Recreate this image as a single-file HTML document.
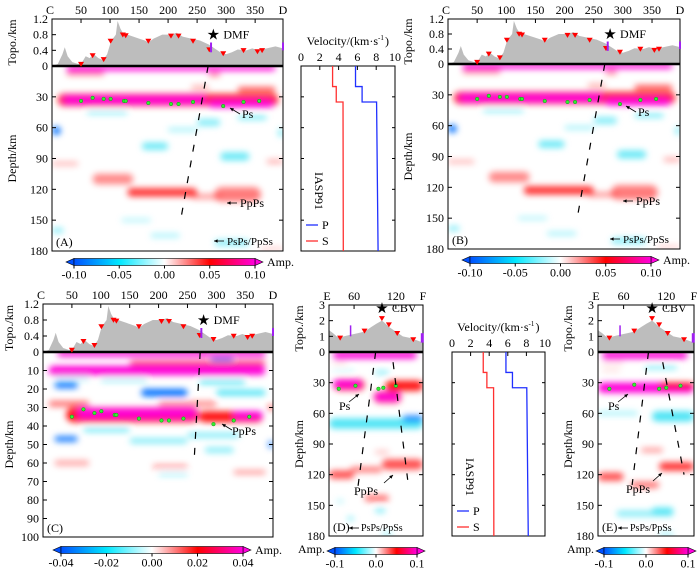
<!DOCTYPE html>
<html><head><meta charset="utf-8">
<style>
html,body{margin:0;padding:0;background:#fff;}
svg{display:block;font-family:"Liberation Serif",serif;}
</style></head>
<body>
<svg id="fig" width="700" height="570" viewBox="0 0 700 570" xmlns="http://www.w3.org/2000/svg">
<defs>
<filter id="blur" x="-20%" y="-80%" width="140%" height="260%"><feGaussianBlur stdDeviation="3.2"/></filter>
<linearGradient id="cmap" x1="0" x2="1" y1="0" y2="0">
<stop offset="0" stop-color="#0050ff"/><stop offset="0.25" stop-color="#00e8ff"/><stop offset="0.5" stop-color="#ffffff"/><stop offset="0.75" stop-color="#ff0000"/><stop offset="1" stop-color="#ff00dd"/>
</linearGradient>
</defs>
</svg>
<script>
// ---------- data ----------
const cdTopoDist=[0,10,18,22,27,35,45,52,58,65,72,80,88,95,100,105,110,113,118,122,130,140,150,160,166,175,190,205,215,225,240,255,270,280,290,300,310,320,335,345,355,370,385,398];
const cdTopoElev=[0,0.05,0.3,0.48,0.25,0.1,0.05,0.1,0.25,0.2,0.3,0.2,0.15,0.3,0.55,0.7,0.8,1.15,0.95,0.85,0.8,0.75,0.7,0.65,0.6,0.7,0.8,0.8,0.85,0.75,0.7,0.65,0.55,0.45,0.35,0.3,0.35,0.42,0.4,0.45,0.4,0.45,0.5,0.45];
const cdStationDist=[50,70,89,101,122,127,166,205,218,243,271,295,330,354,362];
const cdStationElev=[0.03,0.25,0.15,0.62,0.78,0.76,0.62,0.75,0.75,0.62,0.4,0.3,0.38,0.35,0.38];
const cdMohoDist=[50,70,89,101,124,127,166,205,218,243,295,330,357];
const cdMohoDepth=[34,31,32,32,34,34,36,37,37,35,39,35,34];
const cdMohoDepthC=[35,31,33,32,34,34,36,37,37,36,39,37,35];
const efTopoDist=[24,30,35,40,45,55,65,75,85,92,100,103,110,120,130,140,150,159];
const efTopoElev=[1.4,1.2,1.0,0.9,1.0,1.1,1.2,1.3,1.6,1.8,2.0,1.9,1.6,1.3,1.0,0.9,0.75,0.6];
const efStationDist=[40,75,100,110,122,145];
const efStationElev=[0.85,1.3,2.1,1.7,1.15,0.75];
const dMohoDist=[38,62,95,102,120];
const dMohoDepth=[36,33,36,35,33];
const eMohoDist=[40,75,110,120,140];
const eMohoDepth=[36,32,36,35,33];
const iaspDepth=[0,20,20,35,35,180];
const iaspVp=[5.8,5.8,6.5,6.5,8.04,8.2];
const iaspVs=[3.36,3.36,3.75,3.75,4.47,4.5];
// blobs: [distStart, distEnd, depth, thickness, normalizedAmp]
const blobsAB=[[25,385,2,5,1.0],[25,90,7,4,0.5],[270,290,8,4,0.5],[10,390,33,12,0.75],[20,265,33,7,1.0],[270,380,37,7,0.9],[320,385,23,5,0.6],[240,270,21,4,0.3],[0,15,63,8,-0.9],[155,200,78,7,-0.5],[60,130,45,5,-0.3],[250,290,55,7,-0.4],[290,340,88,8,-0.5],[320,370,50,5,-0.4],[200,250,62,4,-0.3],[0,45,95,4,0.25],[70,140,110,10,0.4],[130,250,123,8,0.7],[240,290,127,5,0.35],[280,360,125,14,0.45],[370,398,93,4,0.3],[0,20,160,5,-0.4],[120,170,150,3,-0.3],[170,220,165,4,-0.3],[280,340,172,6,-0.4],[360,398,178,3,0.2],[390,398,65,8,-0.5]];
const blobsC=[[25,385,1,3,1.0],[10,385,10,5,1.0],[150,385,6,3,0.6],[290,330,4,2,-0.9],[20,60,18,3,-0.9],[20,80,14,2,-0.4],[100,180,15,2,-0.4],[170,250,22,4,-0.9],[270,350,16,3,-0.5],[300,385,22,3,-0.6],[10,80,28,3,0.5],[200,300,28,3,0.4],[40,270,34,8,0.8],[60,265,33,5,1.0],[270,380,35,6,0.8],[330,380,34,4,1.0],[20,60,47,3,-0.8],[70,150,42,3,-0.4],[150,250,48,3,-0.4],[250,340,45,3,-0.4],[280,330,53,3,-0.4],[20,80,60,3,0.3],[190,250,62,2,0.4],[200,250,66,2,-0.3],[330,385,65,2,0.4],[390,398,50,4,-0.8],[390,398,30,3,0.8]];
const blobsD=[[30,150,3,7,1.0],[30,75,32,11,0.8],[30,70,31,7,1.0],[88,128,44,12,0.7],[90,125,44,7,1.0],[105,159,33,10,0.8],[90,110,20,4,-0.4],[30,60,18,2,-0.3],[30,50,11,2,0.3],[24,159,70,10,-0.6],[130,159,65,6,-0.7],[90,110,98,4,0.2],[24,60,120,8,0.6],[55,100,115,5,0.5],[100,159,110,10,0.6],[75,110,143,6,0.5],[35,45,146,3,-0.3],[50,60,163,4,-0.4],[90,105,155,5,-0.4],[100,115,178,3,-0.4]];
const blobsE=[[30,150,3,7,1.0],[24,159,35,10,0.9],[30,100,34,7,1.0],[110,159,33,6,0.8],[90,135,15,4,-0.4],[30,60,10,2,0.3],[30,55,18,2,0.2],[100,159,63,10,-0.6],[24,80,60,4,-0.3],[85,115,96,4,0.4],[24,60,122,8,0.6],[70,110,130,6,0.5],[110,159,112,8,0.7],[50,130,158,6,-0.4],[100,130,155,6,-0.5],[110,130,178,3,-0.4]];
const depthTicks180=[0,30,60,90,120,150,180];
const depthTicks100=[0,10,20,30,40,50,60,70,80,90,100];
const topoTicksCD=[0,0.4,0.8,1.2];
const topoTicksEF=[0,1,2,3];
const distTicksCD=[50,100,150,200,250,300,350];
const distTicksEF=[60,120];
const velTicks=[0,2,4,6,8,10];

// ---------- helpers ----------
const NS="http://www.w3.org/2000/svg";
const svg=document.getElementById('fig');
function mk(tag,attrs,parent){var e=document.createElementNS(NS,tag);for(var k in attrs)e.setAttribute(k,attrs[k]);(parent||svg).appendChild(e);return e;}
function txt(s,x,y,size,anchor,parent){var t=mk('text',{x:x,y:y,'font-size':size,'text-anchor':anchor||'middle',fill:'#000'},parent);t.textContent=s;return t;}
function ampColor(a){if(a>=0.85)return '#ff00d8';if(a>0)return '#ff0000';if(a<=-0.7)return '#0070ff';return '#00d8f0';}

function panel(cfg){
  var g=mk('g',{});
  
  
  var X=function(d){return cfg.x0+(d-cfg.dom[0])/(cfg.dom[1]-cfg.dom[0])*(cfg.x1-cfg.x0);};
  var Y=function(z){return cfg.y0+z/cfg.dmax*(cfg.yb-cfg.y0);};
  var T=function(e){return cfg.y0-e/cfg.tmax*(cfg.y0-cfg.ytop);};
  var clipId='clip'+cfg.id;
  var cp=mk('clipPath',{id:clipId},g);
  mk('rect',{x:cfg.x0,y:cfg.y0,width:cfg.x1-cfg.x0,height:cfg.yb-cfg.y0},cp);
  var hg=mk('g',{'clip-path':'url(#'+clipId+')'},g);
  
  
  var bg=mk('g',{filter:'url(#blur)'},hg);
  cfg.blobs.forEach(function(b){
    var bh=b[3]/cfg.dmax*(cfg.yb-cfg.y0);
    var r=mk('rect',{x:X(b[0]),y:Y(b[2])-bh/2,width:X(b[1])-X(b[0]),height:bh,rx:bh/2,fill:ampColor(b[4]),opacity:Math.min(1,Math.abs(b[4])*1.15)},bg);
    
    
  });
  var dpath='M'+X(cfg.topoD[0])+','+T(0);
  cfg.topoD.forEach(function(d,i){dpath+=' L'+X(d)+','+T(cfg.topoE[i]);});
  dpath+=' L'+X(cfg.topoD[cfg.topoD.length-1])+','+T(0)+' Z';
  var tp=mk('path',{d:dpath,fill:'#bdbdbd',stroke:'none'},g);
  
  
  var fr=mk('rect',{x:cfg.x0,y:cfg.ytop,width:cfg.x1-cfg.x0,height:cfg.yb-cfg.ytop,fill:'none',stroke:'#000','stroke-width':1},g);
  
  
  var zl=mk('line',{x1:cfg.x0,x2:cfg.x1,y1:cfg.y0,y2:cfg.y0,stroke:'#000','stroke-width':2.5},g);
  
  
  cfg.stD.forEach(function(d,i){var x=X(d),y=T(cfg.stE[i]);
    var s=mk('path',{d:'M'+(x-3)+','+(y-3)+' L'+(x+3)+','+(y-3)+' L'+x+','+(y+2)+' Z',fill:'#ff0000'},g);
    
    });
  cfg.mD.forEach(function(d,i){
    var c=mk('circle',{cx:X(d),cy:Y(cfg.mZ[i]),r:1.8,fill:'#33ee33',stroke:'#119911','stroke-width':0.5},g);
    
    });
  cfg.dashes.forEach(function(L){
    var l=mk('line',{x1:X(L[0]),y1:Y(L[1]),x2:X(L[2]),y2:Y(L[3]),stroke:'#000','stroke-width':1.2,'stroke-dasharray':'7,9'},g);
    
    });
  var tf=cfg.fs;
  cfg.dTicks.forEach(function(z){
    var l=mk('line',{x1:cfg.x0,x2:cfg.x0+4,y1:Y(z),y2:Y(z),stroke:'#000'},g);
    
    
    var r=mk('line',{x1:cfg.x1,x2:cfg.x1-4,y1:Y(z),y2:Y(z),stroke:'#000'},g);
    
    
    var t=txt(String(z),cfg.x0-4,Y(z)+4,tf,'end',g);
    
    });
  cfg.tTicks.forEach(function(e){
    var l=mk('line',{x1:cfg.x0,x2:cfg.x0+4,y1:T(e),y2:T(e),stroke:'#000'},g);
    
    
    if(e===0)return;
    var t=txt(String(e),cfg.x0-4,T(e)+4,tf,'end',g);
    
    });
  cfg.xTicks.forEach(function(d){
    var l=mk('line',{x1:X(d),x2:X(d),y1:cfg.ytop,y2:cfg.ytop+4,stroke:'#000'},g);
    
    
    var t=txt(String(d),X(d),cfg.ytop-5,tf,'middle',g);
    
    });
  var ls=txt(cfg.ends[0],cfg.x0-2,cfg.ytop-5,tf,'middle',g);
  
  
  var le=txt(cfg.ends[1],cfg.x1,cfg.ytop-5,tf,'middle',g);
  
  
  var at=txt('Topo./km',0,0,tf,'middle',g);
  at.setAttribute('transform','translate('+(cfg.x0-cfg.titleOff)+','+((cfg.ytop+cfg.y0)/2)+') rotate(-90)');
  
  
  var dt=txt('Depth/km',0,0,tf,'middle',g);
  dt.setAttribute('transform','translate('+(cfg.x0-cfg.titleOff)+','+((cfg.y0+cfg.yb)/2)+') rotate(-90)');
  
  
  var sx=X(cfg.star[0]),sy=T(cfg.star[1]);
  var st=txt('\u2605',sx,sy+5,15,'middle',g);
  
  
  var sl=txt(cfg.star[2],sx+10,sy+4,tf,'start',g);
  
  
  cfg.bars.forEach(function(b){
    var p=mk('line',{x1:X(b[0]),x2:X(b[0]),y1:T(b[1]),y2:T(b[2]),stroke:'#a020f0','stroke-width':b[3]},g);
    
    });
  cfg.notes.forEach(function(n){
    var t=txt(n[0],n[1],n[2],n[3]||tf,'start',g);
    
    });
  cfg.arrows.forEach(function(a){
    var l=mk('line',{x1:a[0],y1:a[1],x2:a[2],y2:a[3],stroke:'#000','stroke-width':0.8},g);
    
    
    var ang=Math.atan2(a[3]-a[1],a[2]-a[0]);
    var hx=a[2],hy=a[3];
    var ah=mk('path',{d:'M'+hx+','+hy+' L'+(hx-4*Math.cos(ang-0.45))+','+(hy-4*Math.sin(ang-0.45))+' L'+(hx-4*Math.cos(ang+0.45))+','+(hy-4*Math.sin(ang+0.45))+' Z',fill:'#000'},g);
    
    });
  var pl=txt(cfg.label,cfg.x0+4,cfg.yb-5,tf,'start',g);
  
  
  var cb=cfg.cb;
  var cg=mk('g',{},g);
  
  
  var ch=7;
  var lt=mk('path',{d:'M'+cb.x0+','+cb.y+' L'+(cb.x0+8)+','+(cb.y-ch/2)+' L'+(cb.x0+8)+','+(cb.y+ch/2)+' Z',fill:'#0050ff',stroke:'#000','stroke-width':0.6},cg);
  
  
  var rt=mk('path',{d:'M'+cb.x1+','+cb.y+' L'+(cb.x1-8)+','+(cb.y-ch/2)+' L'+(cb.x1-8)+','+(cb.y+ch/2)+' Z',fill:'#ff00dd',stroke:'#000','stroke-width':0.6},cg);
  
  
  var cr=mk('rect',{x:cb.x0+8,y:cb.y-ch/2,width:cb.x1-cb.x0-16,height:ch,fill:'url(#cmap)',stroke:'#000','stroke-width':0.6},cg);
  
  
  cb.labels.forEach(function(s,i){
    var x=cb.x0+8+i/(cb.labels.length-1)*(cb.x1-cb.x0-16);
    var tk=mk('line',{x1:x,x2:x,y1:cb.y+ch/2,y2:cb.y+ch/2+3,stroke:'#000'},cg);
    
    
    var t=txt(s,x,cb.y+ch/2+13,tf,'middle',cg);
    
    });
  var am=txt('Amp.',cb.ampX,cb.ampY,tf,cb.ampAnchor,cg);
  
  
}

function velPanel(v){
  var g=mk('g',{});
  
  
  var X=function(s){return v.x0+s/10*(v.x1-v.x0);};
  var Y=function(z){return v.y0+z/180*(v.y1-v.y0);};
  var fr=mk('rect',{x:v.x0,y:v.y0,width:v.x1-v.x0,height:v.y1-v.y0,fill:'none',stroke:'#000'},g);
  
  
  velTicks.forEach(function(s){
    var l=mk('line',{x1:X(s),x2:X(s),y1:v.y0,y2:v.y0+4,stroke:'#000'},g);
    
    
    var t=txt(String(s),X(s),v.y0-5,12,'middle',g);
    
    });
  depthTicks180.forEach(function(z){
    var l=mk('line',{x1:v.x0,x2:v.x0+3,y1:Y(z),y2:Y(z),stroke:'#000'},g);
    
    
    var r=mk('line',{x1:v.x1,x2:v.x1-3,y1:Y(z),y2:Y(z),stroke:'#000'},g);
    
    });
  var cx=(v.x0+v.x1)/2+30;
  var ti=txt('Velocity/(km\u00b7s',cx,v.y0-21,12,'end',g);
  
  
  var sup=txt('-1',cx,v.y0-26,7,'start',g);
  
  
  var cl=txt(')',cx+7,v.y0-21,12,'start',g);
  
  
  var pp=iaspDepth.map(function(z,i){return X(iaspVp[i])+','+Y(z);}).join(' ');
  var pl=mk('polyline',{points:pp,fill:'none',stroke:'#2030ff','stroke-width':1.3},g);
  
  
  var sp=iaspDepth.map(function(z,i){return X(iaspVs[i])+','+Y(z);}).join(' ');
  var sl=mk('polyline',{points:sp,fill:'none',stroke:'#ff3030','stroke-width':1.3},g);
  
  
  var mt=txt('IASP91',0,0,12,'middle',g);
  mt.setAttribute('transform','translate('+(v.x0+14)+','+(v.y0+125)+') rotate(90)');
  
  
  var lp=mk('line',{x1:v.x0+5,x2:v.x0+17,y1:v.y0+159,y2:v.y0+159,stroke:'#2030ff','stroke-width':1.3},g);
  
  
  var tpp=txt('P',v.x0+21,v.y0+163,12,'start',g);
  
  
  var ls=mk('line',{x1:v.x0+5,x2:v.x0+17,y1:v.y0+175,y2:v.y0+175,stroke:'#ff3030','stroke-width':1.3},g);
  
  
  var tss=txt('S',v.x0+21,v.y0+179,12,'start',g);
  
  
}

function cdCfg(id,name,x0,x1,ytop,y0,yb,label,cbx0,cbx1,cby){
  return {id:id,name:name,x0:x0,x1:x1,ytop:ytop,y0:y0,yb:yb,dmax:180,tmax:1.2,dom:[0,398],fs:12,titleOff:36,
   topoD:cdTopoDist,topoE:cdTopoElev,stD:cdStationDist,stE:cdStationElev,mD:cdMohoDist,mZ:cdMohoDepth,
   blobs:blobsAB,dTicks:depthTicks180,tTicks:topoTicksCD,xTicks:distTicksCD,ends:['C','D'],
   dashes:[[269,0,221,152]],star:[278,0.8,'DMF'],bars:[[274,0.35,0.6,2],[398,0.4,0.6,2]],
   notes:[['Ps',x0+190,y0+52],['PpPs',x0+188,y0+141],['PsPs/PpSs',x0+175,yb-6,11]],
   arrows:[[x0+188,y0+48,x0+178,y0+42],[x0+185,y0+137,x0+175,y0+137],[x0+172,yb-10,x0+162,yb-10]],
   label:label,cb:{x0:cbx0,x1:cbx1,y:cby,labels:['-0.10','-0.05','0.00','0.05','0.10'],ampX:cbx1+4,ampY:cby+4,ampAnchor:'start'}};
}
function efCfg(id,name,x0,x1,blobs,mD,mZ,dashes,label,ppx,ppy){
  return {id:id,name:name,x0:x0,x1:x1,ytop:305,y0:352,yb:536,dmax:180,tmax:3,dom:[24,159],fs:12,titleOff:26,
   topoD:efTopoDist,topoE:efTopoElev,stD:efStationDist,stE:efStationElev,mD:mD,mZ:mZ,blobs:blobs,
   dTicks:depthTicks180,tTicks:topoTicksEF,xTicks:distTicksEF,ends:['E','F'],dashes:dashes,
   star:[100,2.8,'CBV'],bars:[[55,1.0,1.7,1.5],[158,0.6,1.2,3]],
   notes:[['Ps',x0+10,352+58],['PpPs',ppx,ppy],['PsPs/PpSs',x0+32,531,10]],
   arrows:[[x0+20,352+50,x0+30,352+42],[x0+55,ppy-12,x0+64,ppy-20],[x0+30,528,x0+20,528]],
   label:label,cb:{x0:x0-2,x1:x1+2,y:551,labels:['-0.1','0.0','0.1'],ampX:x0-4,ampY:553,ampAnchor:'end'}};
}
var cfgC={id:'C',name:'panel-c',x0:43,x1:273,ytop:304,y0:352,yb:537,dmax:100,tmax:1.2,dom:[0,398],fs:12,titleOff:30,
  topoD:cdTopoDist,topoE:cdTopoElev,stD:cdStationDist,stE:cdStationElev,mD:cdMohoDist,mZ:cdMohoDepthC,
  blobs:blobsC,dTicks:depthTicks100,tTicks:topoTicksCD,xTicks:distTicksCD,ends:['C','D'],
  dashes:[[272,0,262,56]],star:[278,0.8,'DMF'],bars:[[274,0.35,0.6,2],[398,0.4,0.6,2]],
  notes:[['PpPs',232,435]],arrows:[[232,430,222,424]],label:'(C)',
  cb:{x0:53,x1:251,y:550,labels:['-0.04','-0.02','0.00','0.02','0.04'],ampX:255,ampY:554,ampAnchor:'start'}};
var builders=[
  function(){panel(cdCfg('A','panel-a',52,283,19,66,251,'(A)',66,263,262));},
  function(){panel(cdCfg('B','panel-b',448,680,19,64,249,'(B)',462,659,260));},
  function(){panel(cfgC);},
  function(){panel(efCfg('D','panel-d',329,423,blobsD,dMohoDist,dMohoDepth,[[91,0,64,140],[116,10,137,125]],'(D)',354,495));},
  function(){panel(efCfg('E','panel-e',598,694,blobsE,eMohoDist,eMohoDepth,[[95,0,72,130],[115,10,145,120]],'(E)',626,493));},
  function(){velPanel({name:'velocity-model-top',x0:301,x1:395,y0:66,y1:251});},
  function(){velPanel({name:'velocity-model-bottom',x0:452,x1:545,y0:352,y1:536});}
];
builders.forEach(function(f){try{f();}catch(e){}});
</script>
</body></html>
